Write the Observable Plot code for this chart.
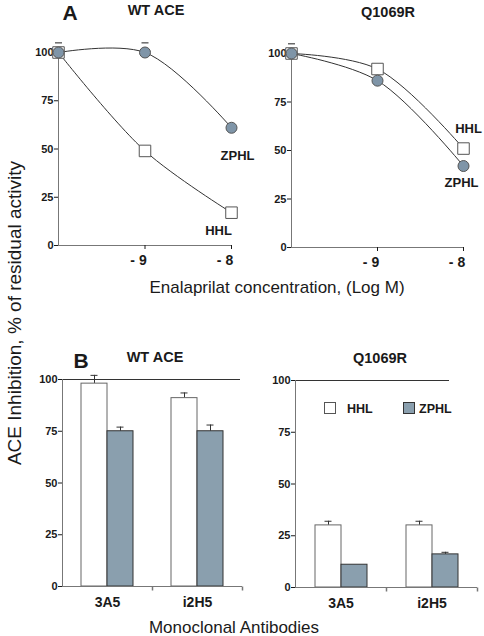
<!DOCTYPE html>
<html><head><meta charset="utf-8">
<script src="https://cdn.jsdelivr.net/npm/d3@7"></script>
<script src="https://cdn.jsdelivr.net/npm/@observablehq/plot@0.6"></script>
<style>
body{margin:0;background:#fff;font-family:"Liberation Sans",Arial,sans-serif;color:#1a1a1a;}
#fig{position:relative;width:484px;height:636px;overflow:hidden;background:#fff;}
.panel{position:absolute;}
.panel svg{overflow:visible;display:block;}
.t{position:absolute;white-space:nowrap;line-height:1;transform:translate(-50%,-50%);}
.b{font-weight:bold;}
.box{position:absolute;box-sizing:border-box;}
</style></head><body><div id="fig"></div>
<script>
// ---- data ----
const concentrations = [-10, -9, -8];          // log M
const xTicks = [-9, -8];
const yTicks = [0, 25, 50, 75, 100];
const substrates = ["HHL", "ZPHL"];
// Panel A: residual activity (%)
const wtHHL = [100, 49, 17];
const wtZPHL = [100, 100, 61];
const wtZPHLErr = [5, 5, 0];
const mutHHL = [100, 92, 51];
const mutZPHL = [100, 86, 42];
const mutZPHLErr = [5, 0, 0];
// Panel B: inhibition (%) by monoclonal antibody
const groups = ["3A5", "i2H5"];
const wtBarHHL = [98, 91];
const wtBarHHLErr = [4, 2.5];
const wtBarZPHL = [75, 75];
const wtBarZPHLErr = [2, 3];
const mutBarHHL = [30, 30];
const mutBarHHLErr = [2, 2];
const mutBarZPHL = [11, 16];
const mutBarZPHLErr = [0, 1];

const FONT = "'Liberation Sans', Arial, sans-serif";
const GREY = "#8a9fae";
const DOT = "#7f95a8";
const fig = document.getElementById("fig");

function place(node, left, top) {
  const d = document.createElement("div");
  d.className = "panel";
  d.style.left = left + "px"; d.style.top = top + "px";
  d.appendChild(node); fig.appendChild(d);
}
function text(str, x, y, size, bold, extra) {
  const d = document.createElement("div");
  d.className = "t" + (bold ? " b" : "");
  d.textContent = str;
  d.style.left = x + "px"; d.style.top = y + "px"; d.style.fontSize = size + "px";
  if (extra) d.style.transform = extra;
  fig.appendChild(d);
}

const hline = {draw(ctx) { ctx.moveTo(-3.5, 0); ctx.lineTo(3.5, 0); }};
const vtick = {draw(ctx) { ctx.moveTo(0, 0); ctx.lineTo(0, 4); }};

function lineChart(hhl, zphl, zErr, dims, lab) {
  const H = concentrations.map((x, i) => ({x, y: hhl[i], s: substrates[0]}));
  const Z = concentrations.map((x, i) => ({x, y: zphl[i], s: substrates[1]}));
  const caps = concentrations.map((x, i) => ({x, y: zphl[i] + zErr[i], e: zErr[i]})).filter(d => d.e > 0);
  return Plot.plot({
    width: 242, height: 300, ...dims,
    style: {background: "transparent", fontFamily: FONT, overflow: "visible", color: "#1a1a1a"},
    x: {domain: [-10, -8]},
    y: {domain: [0, 100]},
    marks: [
      Plot.ruleX([-10], {stroke: "#777"}),
      Plot.ruleY([0], {stroke: "#777"}),
      Plot.axisY({ticks: yTicks, tickSize: 4, tickPadding: 1, fontSize: 11, fontWeight: "bold", label: null}),
      Plot.axisX({ticks: xTicks, tickSize: 4, tickFormat: () => "", label: null}),
      Plot.axisX({ticks: xTicks, tickSize: 0, tickPadding: 10, tickFormat: d => "- " + Math.abs(d), fontSize: 14, fontWeight: "bold", label: null, dx: -6.5}),
      Plot.line(H, {x: "x", y: "y", curve: "catmull-rom", stroke: "#333", strokeWidth: 1}),
      Plot.line(Z, {x: "x", y: "y", curve: "catmull-rom", stroke: "#333", strokeWidth: 1}),
      Plot.dot(caps, {x: "x", y: "y", symbol: hline, fill: "none", stroke: "#444", strokeWidth: 1.2}),
      Plot.dot(H, {x: "x", y: "y", symbol: "square", r: 6.5, fill: "white", stroke: "#555", strokeWidth: 1}),
      Plot.dot(Z, {x: "x", y: "y", symbol: "circle", r: 5.5, fill: DOT, stroke: "#555", strokeWidth: 1}),
      Plot.text([H[H.length - 1]], {x: "x", y: "y", text: "s", dx: lab.h[0], dy: lab.h[1], fontSize: 13, fontWeight: "bold"}),
      Plot.text([Z[Z.length - 1]], {x: "x", y: "y", text: "s", dx: lab.z[0], dy: lab.z[1], fontSize: 13, fontWeight: "bold"})
    ]
  });
}

function barChart(hhl, hhlErr, zphl, zphlErr, dims, topInset) {
  const H = groups.map((g, i) => ({g, s: substrates[0], v: hhl[i], e: hhlErr[i]}));
  const Z = groups.map((g, i) => ({g, s: substrates[1], v: zphl[i], e: zphlErr[i]}));
  const errs = H.concat(Z).filter(d => d.e > 0);
  return Plot.plot({
    width: 242, height: 336, ...dims,
    style: {background: "transparent", fontFamily: FONT, overflow: "visible", color: "#1a1a1a"},
    fx: {domain: groups, padding: 0},
    x: {domain: substrates, paddingInner: 0, paddingOuter: 0.73, axis: null},
    y: {domain: [0, 100]},
    marks: [
      Plot.ruleY([{g: groups[0], y: 100}], {fx: "g", y: "y", stroke: "#333"}),
      Plot.ruleY([{g: groups[1], y: 100}], {fx: "g", y: "y", stroke: "#333", insetRight: topInset}),
      Plot.ruleX(errs, {fx: "g", x: "s", y1: "v", y2: d => d.v + d.e, stroke: "#333"}),
      Plot.tickY(errs, {fx: "g", x: "s", y: d => d.v + d.e, insetLeft: 9.5, insetRight: 9.5, stroke: "#333"}),
      Plot.barY(H, {fx: "g", x: "s", y: "v", fill: "white", stroke: "#666"}),
      Plot.barY(Z, {fx: "g", x: "s", y: "v", fill: GREY, stroke: "#333"}),
      Plot.frame({anchor: "left", facetAnchor: "left", stroke: "#777"}),
      Plot.ruleY([0], {stroke: "#777"}),
      Plot.dot([0], {frameAnchor: "bottom-right", symbol: vtick, fill: "none", stroke: "#777"}),
      Plot.axisY({ticks: yTicks, tickSize: 4, tickPadding: 1, fontSize: 11, fontWeight: "bold", label: null}),
      Plot.axisFx({anchor: "bottom", tickSize: 0, tickPadding: 11, fontSize: 14, fontWeight: "bold", label: null})
    ]
  });
}

// Panel A
place(lineChart(wtHHL, wtZPHL, wtZPHLErr,
  {marginLeft: 58, marginRight: 11, marginTop: 52, marginBottom: 55},
  {h: [-13, 18], z: [6, 28]}), 0, 0);
place(lineChart(mutHHL, mutZPHL, mutZPHLErr,
  {marginLeft: 49, marginRight: 21, marginTop: 53, marginBottom: 53},
  {h: [5, -20], z: [-2, 17]}), 242, 0);
// Panel B
place(barChart(wtBarHHL, wtBarHHLErr, wtBarZPHL, wtBarZPHLErr,
  {marginLeft: 62, marginRight: 0, marginTop: 79, marginBottom: 50}, 2), 0, 300);
place(barChart(mutBarHHL, mutBarHHLErr, mutBarZPHL, mutBarZPHLErr,
  {marginLeft: 53, marginRight: 7, marginTop: 80, marginBottom: 49}, 28), 242, 300);

// legend (panel B, right)
[[324, "white", "#555", 347], [403, GREY, "#333", 419]].forEach(([x, fill, stroke, tx], i) => {
  const b = document.createElement("div");
  b.className = "box";
  b.style.cssText = `left:${x}px;top:402px;width:12px;height:12px;background:${fill};border:1px solid ${stroke};`;
  fig.appendChild(b);
  const t = document.createElement("div");
  t.className = "t b";
  t.textContent = substrates[i];
  t.style.cssText = `left:${tx}px;top:409px;font-size:12.5px;transform:translate(0,-50%);`;
  fig.appendChild(t);
});

// titles and labels
text("A", 70, 12, 21, true);
text("WT ACE", 156, 10, 14.5, true);
text("Q1069R", 388, 12, 14.5, true);
text("B", 81, 360, 21, true);
text("WT ACE", 155, 357, 14.5, true);
text("Q1069R", 380, 358, 14.5, true);
text("Enalaprilat concentration, (Log M)", 277, 287, 17, false);
text("Monoclonal Antibodies", 234, 627, 17, false);
text("ACE Inhibition, % of residual activity", 14, 313, 19, false, "translate(-50%,-50%) rotate(-90deg)");
</script></body></html>
